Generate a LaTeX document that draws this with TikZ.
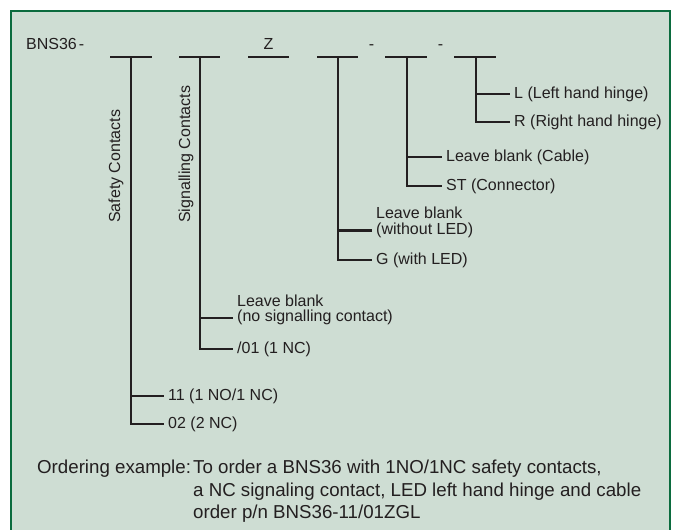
\documentclass[tikz,border=0pt]{standalone}
\usepackage{fontspec}
\setmainfont{Liberation Sans}
\usetikzlibrary{calc}
\definecolor{panel}{HTML}{CEDDD3}
\definecolor{frame}{HTML}{0B6B3E}
\definecolor{ink}{HTML}{231F20}
\begin{document}
\begin{tikzpicture}[x=1pt,y=-1pt,
  lbl/.style={font=\fontsize{16}{15.5}\selectfont, text=ink, inner sep=0pt},
  opt/.style={lbl, anchor=west, inner xsep=4pt, inner ysep=0pt, align=left},
  vlbl/.style={lbl, rotate=90, anchor=west},
  wire/.style={draw=ink, line width=2.2pt, line join=miter},
  ord/.style={font=\fontsize{18.7}{22.5}\selectfont, text=ink, inner sep=0pt, anchor=base west}]
\useasboundingbox (0,0) rectangle (673,530);
\begin{scope}
  \clip (0,0) rectangle (673,530);
  \draw[fill=panel, draw=frame, line width=2.4pt] (11,11) rectangle (670,560);
\end{scope}

% header code
\node[lbl, anchor=base west] (bns) at (26,49) {BNS36\kern2pt-};
\node[lbl, anchor=base] (z) at (268.5,49) {Z};
\node[lbl, anchor=base] (d1) at (371.5,49) {-};
\node[lbl, anchor=base] (d2) at (440.5,49) {-};

% bars
\coordinate (b1l) at (110,57); \coordinate (b1r) at (152,57); \coordinate (s1) at (131,57);
\coordinate (b2l) at (179,57); \coordinate (b2r) at (220,57); \coordinate (s2) at (200,57);
\coordinate (b3l) at (248,57); \coordinate (b3r) at (289,57);
\coordinate (b4l) at (317,57); \coordinate (b4r) at (358,57); \coordinate (s4) at (338,57);
\coordinate (b5l) at (385,57); \coordinate (b5r) at (427,57); \coordinate (s5) at (407,57);
\coordinate (b6l) at (454,57); \coordinate (b6r) at (496,57); \coordinate (s6) at (476,57);
\foreach \b in {1,...,6} { \draw[wire] (b\b l) -- (b\b r); }

% vertical labels
\node[vlbl] (safety) at (116,223) {Safety Contacts};
\node[vlbl] (signal) at (186,223) {Signalling Contacts};

% options
\node[opt] (l6) at (510,94) {L (Left hand hinge)};
\node[opt] (r6) at (510,122) {R (Right hand hinge)};
\node[opt] (c5) at (442,157) {Leave blank (Cable)};
\node[opt] (st5) at (442,186) {ST (Connector)};
\node[opt] (lb4) at (372,222.5) {Leave blank\\(without LED)};
\node[opt] (g4) at (372,260) {G (with LED)};
\node[opt] (lb2) at (233,310) {Leave blank\\(no signalling contact)};
\node[opt] (n2) at (233,349) {/01 (1 NC)};
\node[opt] (a1) at (164,396) {11 (1 NO/1 NC)};
\node[opt] (b1) at (164,424) {02 (2 NC)};

% connectors
\draw[wire] (s6) |- (r6.west);
\draw[wire] (s6 |- l6.west) -- (l6.west);
\draw[wire] (s5) |- (st5.west);
\draw[wire] (s5 |- c5.west) -- (c5.west);
\draw[wire] (s4) |- (g4.west);
\draw[wire] (s4 |- {$(lb4.west)+(0,8)$}) -- ($(lb4.west)+(0,8)$);
\draw[wire] (s2) |- (n2.west);
\draw[wire] (s2 |- {$(lb2.west)+(0,8)$}) -- ($(lb2.west)+(0,8)$);
\draw[wire] (s1) |- (b1.west);
\draw[wire] (s1 |- a1.west) -- (a1.west);

% ordering example
\node[ord] (ex) at (37,473) {Ordering example:};
\node[ord] (ex1) at (193,473) {To order a BNS36 with 1NO/1NC safety contacts,};
\node[ord] (ex2) at (193,496) {a NC signaling contact, LED left hand hinge and cable};
\node[ord] (ex3) at (193,518) {order p/n BNS36-11/01ZGL};
\end{tikzpicture}
\end{document}
